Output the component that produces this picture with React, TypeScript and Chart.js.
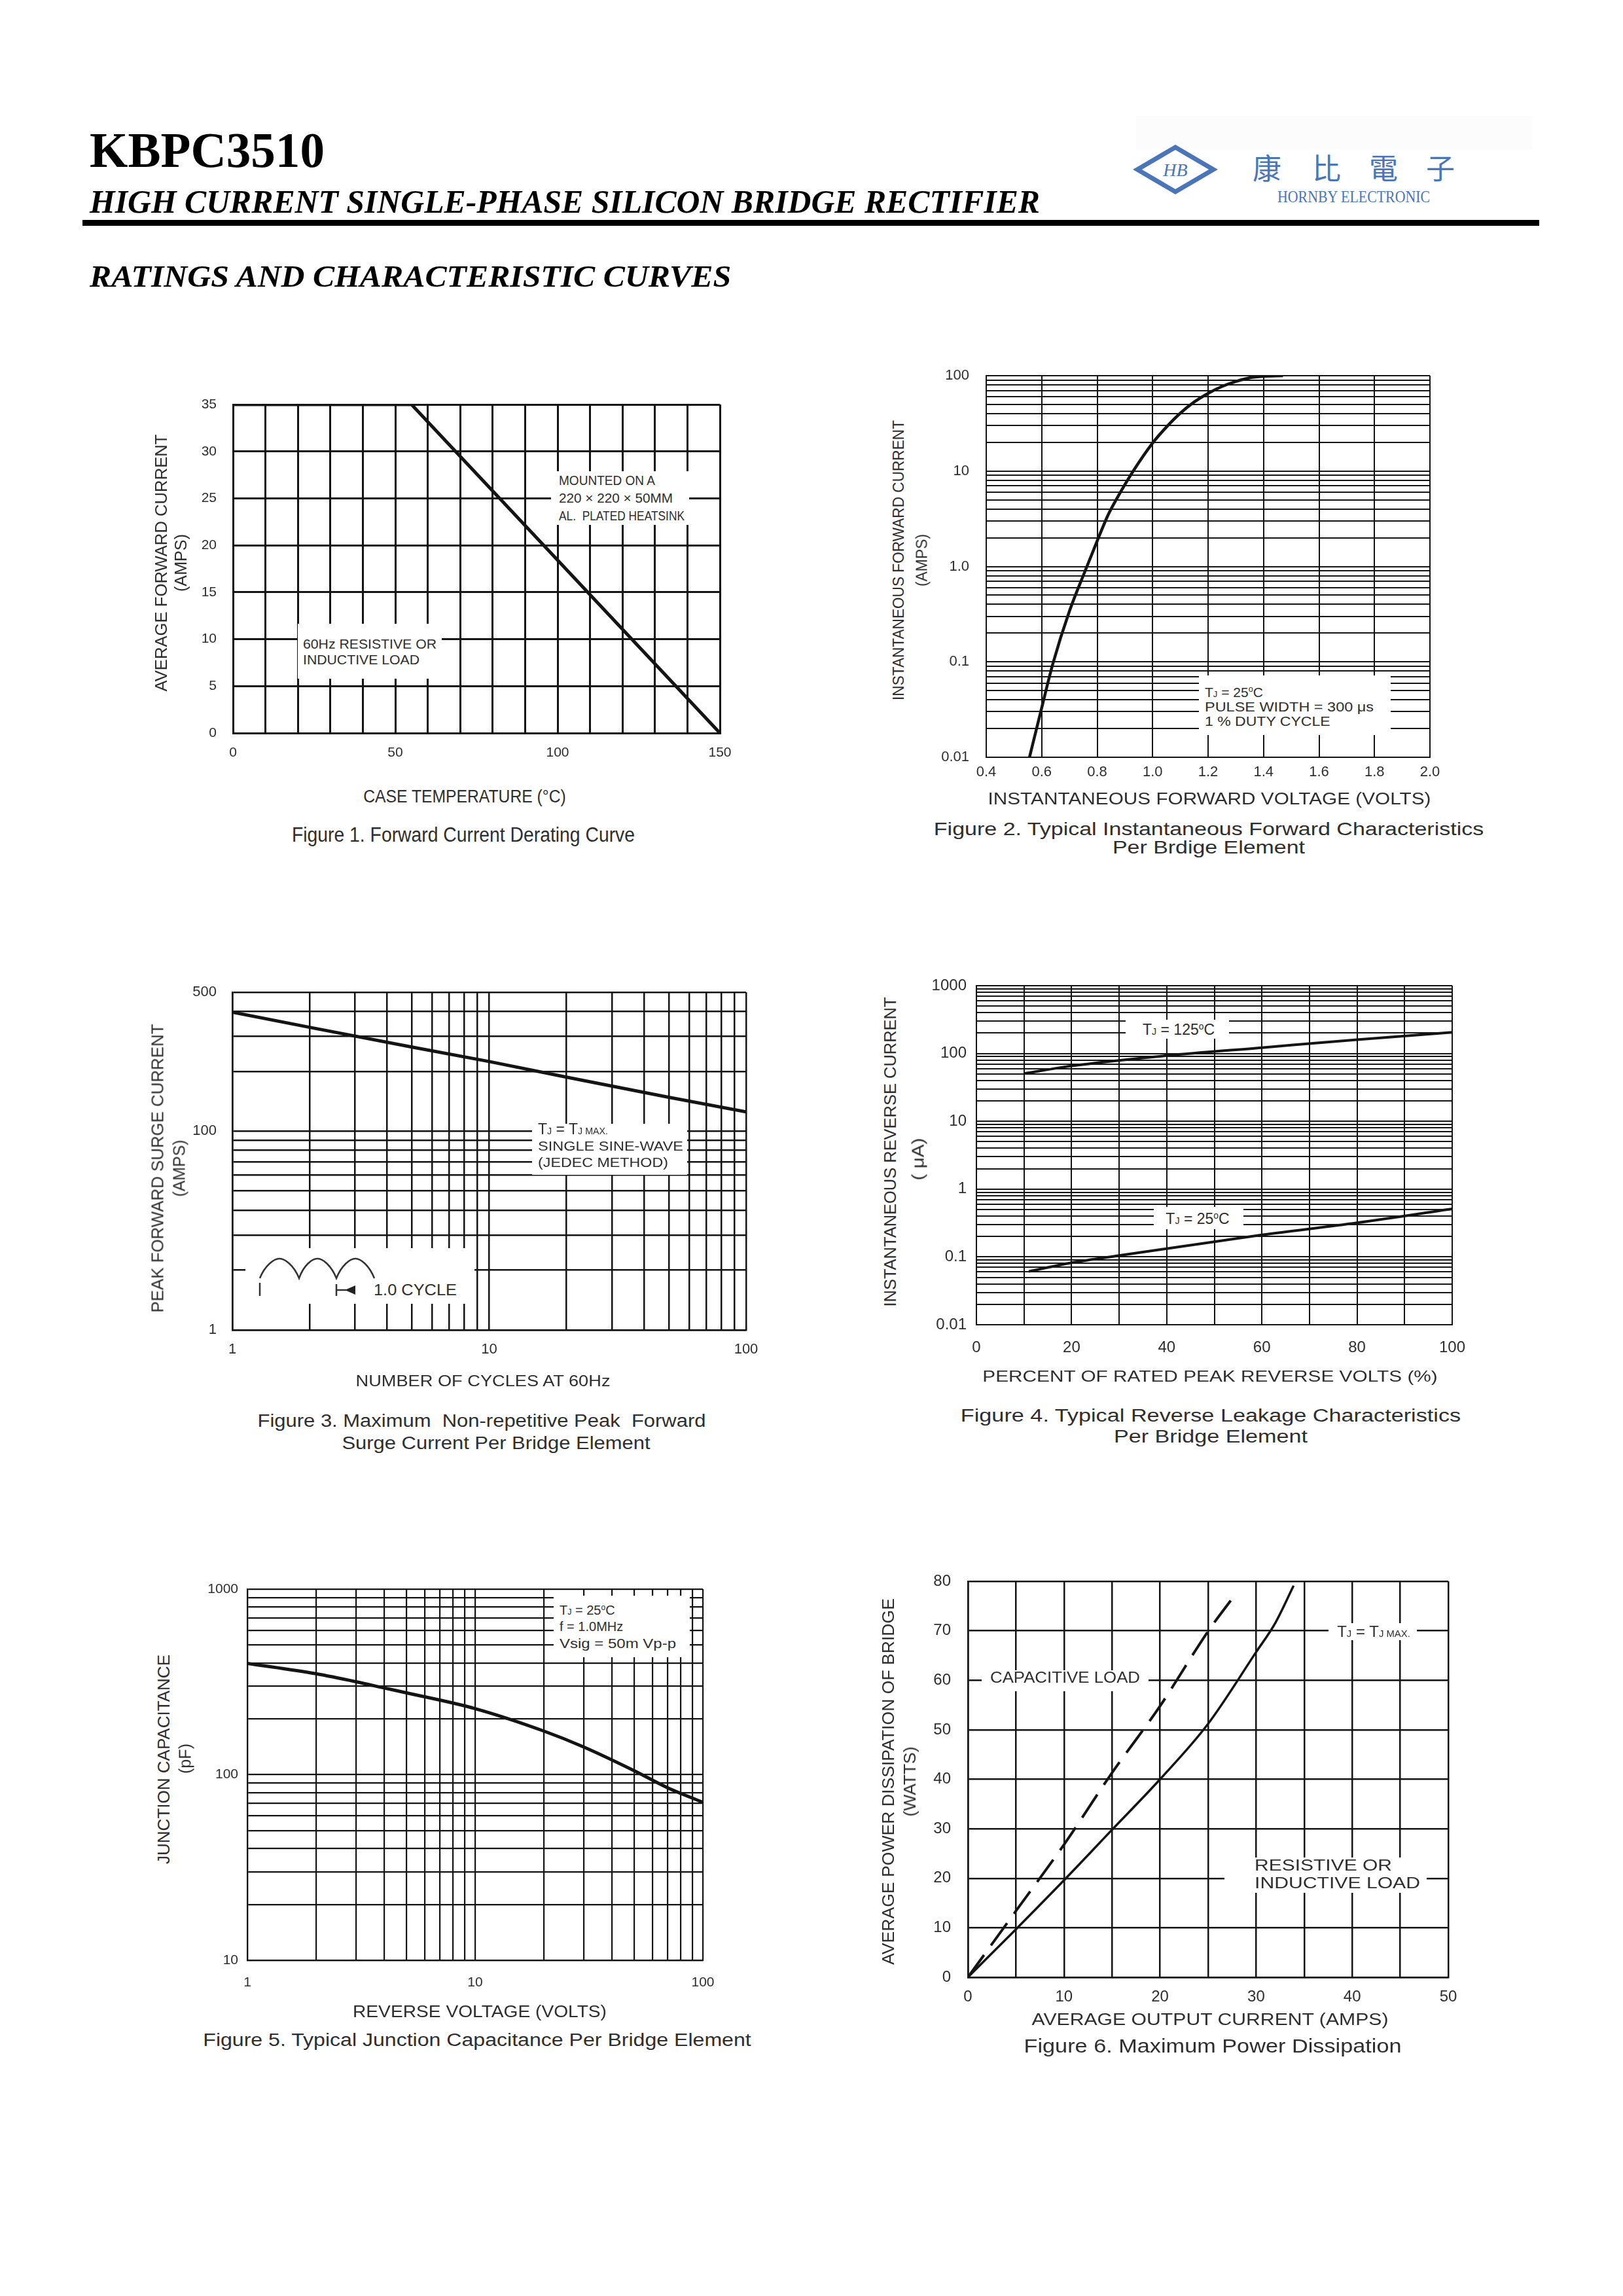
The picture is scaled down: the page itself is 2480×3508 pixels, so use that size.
import React, { useEffect, useRef } from 'react';
import { Chart, registerables } from 'chart.js';

Chart.register(...registerables);

const SANS = '"Liberation Sans", Arial, Helvetica, sans-serif';
const SERIF = '"Liberation Serif", "Times New Roman", Times, serif';
const CJK = '"Noto Sans CJK TC", "Noto Sans CJK SC", sans-serif';
const INK = '#2e2e2e';
const LINE = '#141414';
const BLUE = '#4a76b9';

type Pair = [number, string];

function logGrid(e0: number, e1: number): number[] {
  const out: number[] = [];
  for (let e = e0; e < e1; e++) for (let m = 1; m <= 9; m++) out.push(Number((m * Math.pow(10, e)).toPrecision(3)));
  out.push(Number(Math.pow(10, e1).toPrecision(3)));
  return out;
}

// ---------- Figure 1: Forward current derating ----------
const fig1CaseTemp = [0, 55, 150];
const fig1AvgCurrent = [35, 35, 0];
const fig1XTicks = [0, 10, 20, 30, 40, 50, 60, 70, 80, 90, 100, 110, 120, 130, 140, 150];
const fig1XLabels: Pair[] = [[0, '0'], [50, '50'], [100, '100'], [150, '150']];
const fig1YTicks = [0, 5, 10, 15, 20, 25, 30, 35];
const fig1YLabels: Pair[] = [[0, '0'], [5, '5'], [10, '10'], [15, '15'], [20, '20'], [25, '25'], [30, '30'], [35, '35']];

// ---------- Figure 2: Forward characteristics ----------
const fig2Voltage = [0.556, 0.6, 0.64, 0.7, 0.76, 0.8, 0.84, 0.87, 0.93, 1.0, 1.05, 1.1, 1.15, 1.2, 1.25, 1.3, 1.35, 1.4, 1.47];
const fig2Current = [0.01, 0.033, 0.095, 0.34, 0.95, 1.85, 3.5, 5.1, 10, 19.7, 29, 40.5, 53, 65.3, 77, 87, 95, 98.5, 100];
const fig2XTicks = [0.4, 0.6, 0.8, 1.0, 1.2, 1.4, 1.6, 1.8, 2.0];
const fig2XLabels: Pair[] = [[0.4, '0.4'], [0.6, '0.6'], [0.8, '0.8'], [1.0, '1.0'], [1.2, '1.2'], [1.4, '1.4'], [1.6, '1.6'], [1.8, '1.8'], [2.0, '2.0']];
const fig2YTicks = logGrid(-2, 2);
const fig2YLabels: Pair[] = [[0.01, '0.01'], [0.1, '0.1'], [1, '1.0'], [10, '10'], [100, '100']];

// ---------- Figure 3: Surge current ----------
const fig3Cycles = [1, 2, 5, 10, 20, 50, 100];
const fig3Surge = [397, 333, 265, 224, 187, 148, 125];
const fig3XTicks = logGrid(0, 2);
const fig3XLabels: Pair[] = [[1, '1'], [10, '10'], [100, '100']];
const fig3YTicks = [...logGrid(1, 2), 200, 300, 400, 500];
const fig3YLabels: Pair[] = [[10, '1'], [100, '100'], [500, '500']];

// ---------- Figure 4: Reverse leakage ----------
const fig4Percent125 = [10, 20, 40, 60, 80, 100];
const fig4Ir125 = [50.5, 65.5, 93, 122, 160, 205];
const fig4Percent25 = [11, 20, 30, 50, 60, 80, 100];
const fig4Ir25 = [0.061, 0.082, 0.105, 0.167, 0.211, 0.318, 0.51];
const fig4XTicks = [0, 10, 20, 30, 40, 50, 60, 70, 80, 90, 100];
const fig4XLabels: Pair[] = [[0, '0'], [20, '20'], [40, '40'], [60, '60'], [80, '80'], [100, '100']];
const fig4YTicks = logGrid(-2, 3);
const fig4YLabels: Pair[] = [[0.01, '0.01'], [0.1, '0.1'], [1, '1'], [10, '10'], [100, '100'], [1000, '1000']];

// ---------- Figure 5: Junction capacitance ----------
const fig5Voltage = [1, 2, 3, 4, 5, 10, 20, 30, 50, 70, 100];
const fig5Capacitance = [398, 350, 317, 293, 276, 227, 172, 141, 105, 85, 71];
const fig5XTicks = logGrid(0, 2);
const fig5XLabels: Pair[] = [[1, '1'], [10, '10'], [100, '100']];
const fig5YTicks = logGrid(1, 3);
const fig5YLabels: Pair[] = [[10, '10'], [100, '100'], [1000, '1000']];

// ---------- Figure 6: Power dissipation ----------
const fig6ResAmps = [0, 5, 10, 15, 20, 25, 30, 32, 33.9];
const fig6ResWatts = [0, 9.7, 19.6, 29.8, 40, 51.2, 65.7, 71.6, 79.1];
const fig6CapAmps = [0, 5, 10, 15, 20, 25, 27.7];
const fig6CapWatts = [0, 13.4, 26.8, 41.3, 54.8, 69.9, 77];
const fig6XTicks = [0, 5, 10, 15, 20, 25, 30, 35, 40, 45, 50];
const fig6XLabels: Pair[] = [[0, '0'], [10, '10'], [20, '20'], [30, '30'], [40, '40'], [50, '50']];
const fig6YTicks = [0, 10, 20, 30, 40, 50, 60, 70, 80];
const fig6YLabels: Pair[] = [[0, '0'], [10, '10'], [20, '20'], [30, '30'], [40, '40'], [50, '50'], [60, '60'], [70, '70'], [80, '80']];

function labelFor(labels: Pair[], v: number): string {
  for (const [val, txt] of labels) {
    if (val === v || Math.abs(val - v) <= 1e-6 * Math.abs(val)) return txt;
  }
  return '';
}

type Ax = { type: 'linear' | 'logarithmic'; min: number; max: number; ticks: number[]; labels: Pair[]; size: number; pad: number };
type Ds = { xs: number[]; ys: number[]; width: number; dash?: number[]; smooth?: boolean };
type Spec = { L: number; T: number; W: number; H: number; grid: number; x: Ax; y: Ax; data: Ds[] };

const AXW = 110;
const PADT = 70;
const PADR = 80;
const XAH = 80;

function PlotChart({ spec }: { spec: Spec }) {
  const ref = useRef<HTMLCanvasElement>(null);
  const cw = spec.W + AXW + PADR;
  const ch = spec.H + PADT + XAH;
  useEffect(() => {
    const mk = (a: Ax, isX: boolean): any => ({
      type: a.type,
      min: a.min,
      max: a.max,
      position: isX ? 'bottom' : 'left',
      afterBuildTicks: (s: any) => {
        s.ticks = a.ticks.map((v) => ({ value: v }));
      },
      afterFit: (s: any) => {
        if (isX) s.height = XAH;
        else s.width = AXW;
      },
      ticks: {
        autoSkip: false,
        maxRotation: 0,
        minRotation: 0,
        padding: a.pad,
        color: INK,
        font: { family: SANS, size: a.size },
        callback: (v: any) => labelFor(a.labels, Number(v)),
      },
      grid: { color: LINE, lineWidth: spec.grid, drawTicks: false },
      border: { display: true, color: LINE, width: spec.grid },
    });
    const chart = new Chart(ref.current as HTMLCanvasElement, {
      type: 'line',
      data: {
        datasets: spec.data.map((d) => ({
          data: d.xs.map((x, i) => ({ x, y: d.ys[i] })),
          borderColor: LINE,
          borderWidth: d.width,
          borderDash: d.dash || [],
          pointRadius: 0,
          fill: false,
          tension: 0,
          cubicInterpolationMode: d.smooth ? 'monotone' : 'default',
        })) as any,
      },
      options: {
        responsive: false,
        animation: false,
        devicePixelRatio: 1,
        events: [],
        layout: { padding: { top: PADT, right: PADR, left: 0, bottom: 0 } },
        plugins: { legend: { display: false }, tooltip: { enabled: false }, title: { display: false } },
        scales: { x: mk(spec.x, true), y: mk(spec.y, false) },
      } as any,
    });
    return () => chart.destroy();
  }, []);
  return (
    <canvas
      ref={ref}
      width={cw}
      height={ch}
      style={{ position: 'absolute', left: spec.L - AXW, top: spec.T - PADT, width: cw, height: ch }}
    />
  );
}

const mctx = document.createElement('canvas').getContext('2d') as CanvasRenderingContext2D;

type TxtProps = {
  x: number; y: number; t: string; size: number; w?: number; align?: 'center' | 'left'; rot?: boolean;
  family?: string; weight?: number; italic?: boolean; color?: string;
};

function Txt({ x, y, t, size, w, align = 'center', rot = false, family = SANS, weight = 400, italic = false, color = INK }: TxtProps) {
  mctx.font = `${italic ? 'italic ' : ''}${weight} ${size}px ${family}`;
  const nat = mctx.measureText(t).width || 1;
  const sx = w ? w / nat : 1;
  let transform = '';
  let origin = 'center center';
  if (rot) transform = `translate(-50%,-50%) rotate(-90deg) scaleX(${sx})`;
  else if (align === 'center') transform = `translate(-50%,-50%) scaleX(${sx})`;
  else {
    transform = `translate(0,-50%) scaleX(${sx})`;
    origin = 'left center';
  }
  return (
    <div
      style={{
        position: 'absolute', left: x, top: y, fontFamily: family, fontSize: size, fontWeight: weight,
        fontStyle: italic ? 'italic' : 'normal', color, lineHeight: 1, whiteSpace: 'pre', transform, transformOrigin: origin,
      }}
    >
      {t}
    </div>
  );
}

function Rich({ x, y, size, align = 'left', children }: { x: number; y: number; size: number; align?: 'left' | 'center'; children: React.ReactNode }) {
  return (
    <div
      style={{
        position: 'absolute', left: x, top: y, fontFamily: SANS, fontSize: size, color: INK, lineHeight: 1, whiteSpace: 'pre',
        transform: align === 'center' ? 'translate(-50%,-50%)' : 'translate(0,-50%)',
      }}
    >
      {children}
    </div>
  );
}

const Sub = ({ t }: { t: string }) => <span style={{ fontSize: '0.62em' }}>{t}</span>;
const Deg = () => <span style={{ fontSize: '0.6em', position: 'relative', top: '-0.6em' }}>o</span>;

function WBox({ l, t, w, h }: { l: number; t: number; w: number; h: number }) {
  return <div style={{ position: 'absolute', left: l, top: t, width: w, height: h, background: '#fff' }} />;
}

const spec1: Spec = {
  L: 356, T: 618, W: 744, H: 502, grid: 3,
  x: { type: 'linear', min: 0, max: 150, ticks: fig1XTicks, labels: fig1XLabels, size: 21, pad: 18 },
  y: { type: 'linear', min: 0, max: 35, ticks: fig1YTicks, labels: fig1YLabels, size: 21, pad: 25 },
  data: [{ xs: fig1CaseTemp, ys: fig1AvgCurrent, width: 5 }],
};
const spec2: Spec = {
  L: 1507, T: 574, W: 678, H: 583, grid: 2,
  x: { type: 'linear', min: 0.4, max: 2.0, ticks: fig2XTicks, labels: fig2XLabels, size: 22, pad: 10 },
  y: { type: 'logarithmic', min: 0.01, max: 100, ticks: fig2YTicks, labels: fig2YLabels, size: 22, pad: 26 },
  data: [{ xs: fig2Voltage, ys: fig2Current, width: 4.5, smooth: true }],
};
const spec3: Spec = {
  L: 355, T: 1516, W: 785, H: 516, grid: 2.5,
  x: { type: 'logarithmic', min: 1, max: 100, ticks: fig3XTicks, labels: fig3XLabels, size: 22, pad: 17 },
  y: { type: 'logarithmic', min: 10, max: 500, ticks: fig3YTicks, labels: fig3YLabels, size: 22, pad: 24 },
  data: [{ xs: fig3Cycles, ys: fig3Surge, width: 5 }],
};
const spec4: Spec = {
  L: 1492, T: 1506, W: 727, H: 518, grid: 2,
  x: { type: 'linear', min: 0, max: 100, ticks: fig4XTicks, labels: fig4XLabels, size: 24, pad: 21 },
  y: { type: 'logarithmic', min: 0.01, max: 1000, ticks: fig4YTicks, labels: fig4YLabels, size: 24, pad: 15 },
  data: [
    { xs: fig4Percent125, ys: fig4Ir125, width: 4, smooth: true },
    { xs: fig4Percent25, ys: fig4Ir25, width: 4, smooth: true },
  ],
};
const spec5: Spec = {
  L: 378, T: 2428, W: 696, H: 567, grid: 2.2,
  x: { type: 'logarithmic', min: 1, max: 100, ticks: fig5XTicks, labels: fig5XLabels, size: 21, pad: 22 },
  y: { type: 'logarithmic', min: 10, max: 1000, ticks: fig5YTicks, labels: fig5YLabels, size: 21, pad: 14 },
  data: [{ xs: fig5Voltage, ys: fig5Capacitance, width: 5, smooth: true }],
};
const spec6: Spec = {
  L: 1479, T: 2416, W: 734, H: 605, grid: 2.5,
  x: { type: 'linear', min: 0, max: 50, ticks: fig6XTicks, labels: fig6XLabels, size: 24, pad: 16 },
  y: { type: 'linear', min: 0, max: 80, ticks: fig6YTicks, labels: fig6YLabels, size: 24, pad: 26 },
  data: [
    { xs: fig6ResAmps, ys: fig6ResWatts, width: 3.5, smooth: true },
    { xs: fig6CapAmps, ys: fig6CapWatts, width: 4, dash: [42, 18], smooth: true },
  ],
};

export default function App() {
  return (
    <div style={{ position: 'absolute', left: 0, top: 0, width: 2480, height: 3508, background: '#fff', overflow: 'hidden', fontFamily: SANS }}>
      {/* Header */}
      <Txt x={137} y={229} t="KBPC3510" size={76} w={359} align="left" family={SERIF} weight={700} color="#000" />
      <Txt x={137} y={308} t="HIGH CURRENT SINGLE-PHASE SILICON BRIDGE RECTIFIER" size={50} w={1452} align="left" family={SERIF} weight={700} italic color="#000" />
      <div style={{ position: 'absolute', left: 126, top: 336, width: 2226, height: 9, background: '#000' }} />
      <Txt x={137} y={422} t="RATINGS AND CHARACTERISTIC CURVES" size={47} w={982} align="left" family={SERIF} weight={700} italic color="#000" />

      {/* Logo */}
      <div style={{ position: 'absolute', left: 1736, top: 177, width: 606, height: 51, background: '#fcfcfc' }} />
      <svg style={{ position: 'absolute', left: 1730, top: 218 }} width={132} height={82} viewBox="0 0 132 82">
        <polygon points="8,41 66,7 124,41 66,75" fill="none" stroke={BLUE} strokeWidth={7} strokeLinejoin="miter" />
        <text x={66} y={51} textAnchor="middle" fontFamily={SERIF} fontStyle="italic" fontSize={28} fill={BLUE}>HB</text>
      </svg>
      <Txt x={1936} y={255} t="康" size={44} family={CJK} color={BLUE} />
      <Txt x={2027} y={255} t="比" size={44} family={CJK} color={BLUE} />
      <Txt x={2114} y={255} t="電" size={44} family={CJK} color={BLUE} />
      <Txt x={2201} y={255} t="子" size={44} family={CJK} color={BLUE} />
      <Txt x={1952} y={301} t="HORNBY ELECTRONIC" size={26} w={234} align="left" family={SERIF} color={BLUE} />

      {/* Figure 1 */}
      <PlotChart spec={spec1} />
      <WBox l={842} t={720} w={211} h={82} />
      <Txt x={854} y={734} t="MOUNTED ON A" size={20} w={148} align="left" />
      <Txt x={854} y={761} t="220 × 220 × 50MM" size={20} w={174} align="left" />
      <Txt x={854} y={788} t="AL.  PLATED HEATSINK" size={20} w={192} align="left" />
      <WBox l={455} t={953} w={220} h={84} />
      <Txt x={463} y={984} t="60Hz RESISTIVE OR" size={20} w={204} align="left" />
      <Txt x={463} y={1008} t="INDUCTIVE LOAD" size={20} w={178} align="left" />
      <Txt x={710} y={1217} t="CASE TEMPERATURE (°C)" size={27} w={310} />
      <Txt x={708} y={1275} t="Figure 1. Forward Current Derating Curve" size={31} w={524} />
      <Txt x={246} y={860} t="AVERAGE FORWARD CURRENT" size={25} w={393} rot />
      <Txt x={276} y={860} t="(AMPS)" size={25} w={88} rot />

      {/* Figure 2 */}
      <PlotChart spec={spec2} />
      <WBox l={1832} t={1032} w={293} h={91} />
      <Rich x={1841} y={1057} size={21}>T<Sub t="J" /> = 25<Deg />C</Rich>
      <Txt x={1841} y={1079} t="PULSE WIDTH = 300 μs" size={21} w={258} align="left" />
      <Txt x={1841} y={1101} t="1 % DUTY CYCLE" size={21} w={192} align="left" />
      <Txt x={1848} y={1220} t="INSTANTANEOUS FORWARD VOLTAGE (VOLTS)" size={26} w={677} />
      <Txt x={1847} y={1267} t="Figure 2. Typical Instantaneous Forward Characteristics" size={28} w={841} />
      <Txt x={1847} y={1295} t="Per Brdige Element" size={28} w={294} />
      <Txt x={1373} y={856} t="INSTANTANEOUS FORWARD CURRENT" size={23} w={428} rot />
      <Txt x={1409} y={856} t="(AMPS)" size={23} w={80} rot />

      {/* Figure 3 */}
      <PlotChart spec={spec3} />
      <WBox l={813} t={1717} w={237} h={78} />
      <Rich x={822} y={1725} size={23}>T<Sub t="J" /> = T<Sub t="J MAX." /></Rich>
      <Txt x={822} y={1750} t="SINGLE SINE-WAVE" size={21} w={222} align="left" />
      <Txt x={822} y={1775} t="(JEDEC METHOD)" size={21} w={199} align="left" />
      <WBox l={375} t={1907} w={350} h={85} />
      <svg style={{ position: 'absolute', left: 375, top: 1900 }} width={360} height={100} viewBox="0 0 360 100">
        <path d="M22,53 C30,33 44,23 52,23 C60,23 74,33 82,53 C89,33 102,23 110,23 C118,23 131,33 139,53 C147,33 160,23 168,23 C176,23 189,33 197,53" fill="none" stroke="#333" strokeWidth={2.5} />
        <path d="M22,60 L22,80 M139,62 L139,80 M139,71 L154,71" fill="none" stroke="#333" strokeWidth={2.5} />
        <polygon points="152,71 168,64 168,78" fill="#222" />
      </svg>
      <Txt x={571} y={1971} t="1.0 CYCLE" size={24} w={127} align="left" />
      <Txt x={738} y={2110} t="NUMBER OF CYCLES AT 60Hz" size={24} w={391} />
      <Txt x={736} y={2171} t="Figure 3. Maximum  Non-repetitive Peak  Forward" size={27} w={685} />
      <Txt x={758} y={2205} t="Surge Current Per Bridge Element" size={27} w={471} />
      <Txt x={241} y={1785} t="PEAK FORWARD SURGE CURRENT" size={25} w={441} rot />
      <Txt x={274} y={1785} t="(AMPS)" size={25} w={87} rot />

      {/* Figure 4 */}
      <PlotChart spec={spec4} />
      <WBox l={1720} t={1558} w={158} h={29} />
      <Rich x={1801} y={1573} size={23} align="center">T<Sub t="J" /> = 125<Deg />C</Rich>
      <WBox l={1763} t={1844} w={137} h={34} />
      <Rich x={1830} y={1862} size={23} align="center">T<Sub t="J" /> = 25<Deg />C</Rich>
      <Txt x={1849} y={2103} t="PERCENT OF RATED PEAK REVERSE VOLTS (%)" size={24} w={696} />
      <Txt x={1850} y={2163} t="Figure 4. Typical Reverse Leakage Characteristics" size={27} w={765} />
      <Txt x={1850} y={2195} t="Per Bridge Element" size={27} w={296} />
      <Txt x={1360} y={1760} t="INSTANTANEOUS REVERSE CURRENT" size={25} w={473} rot />
      <Txt x={1403} y={1771} t="( μA)" size={25} w={65} rot />

      {/* Figure 5 */}
      <PlotChart spec={spec5} />
      <WBox l={846} t={2438} w={208} h={94} />
      <Rich x={855} y={2460} size={20}>T<Sub t="J" /> = 25<Deg />C</Rich>
      <Txt x={855} y={2485} t="f = 1.0MHz" size={20} align="left" />
      <Txt x={855} y={2511} t="Vsig = 50m Vp-p" size={20} w={178} align="left" />
      <Txt x={733} y={3073} t="REVERSE VOLTAGE (VOLTS)" size={26} w={388} />
      <Txt x={729} y={3117} t="Figure 5. Typical Junction Capacitance Per Bridge Element" size={27} w={838} />
      <Txt x={250} y={2688} t="JUNCTION CAPACITANCE" size={25} w={320} rot />
      <Txt x={283} y={2687} t="(pF)" size={25} w={46} rot />

      {/* Figure 6 */}
      <PlotChart spec={spec6} />
      <WBox l={2030} t={2480} w={135} h={26} />
      <Rich x={2099} y={2493} size={24} align="center">T<Sub t="J" /> = T<Sub t="J MAX." /></Rich>
      <WBox l={1500} t={2552} w={255} h={32} />
      <Txt x={1513} y={2563} t="CAPACITIVE LOAD" size={23} w={229} align="left" />
      <WBox l={1871} t={2838} w={309} h={54} />
      <Txt x={1917} y={2850} t="RESISTIVE OR" size={24} w={210} align="left" />
      <Txt x={1917} y={2877} t="INDUCTIVE LOAD" size={24} w={253} align="left" />
      <Txt x={1849} y={3085} t="AVERAGE OUTPUT CURRENT (AMPS)" size={26} w={546} />
      <Txt x={1853} y={3126} t="Figure 6. Maximum Power Dissipation" size={29} w={577} />
      <Txt x={1357} y={2722} t="AVERAGE POWER DISSIPATION OF BRIDGE" size={26} w={560} rot />
      <Txt x={1390} y={2722} t="(WATTS)" size={26} w={107} rot />
    </div>
  );
}
